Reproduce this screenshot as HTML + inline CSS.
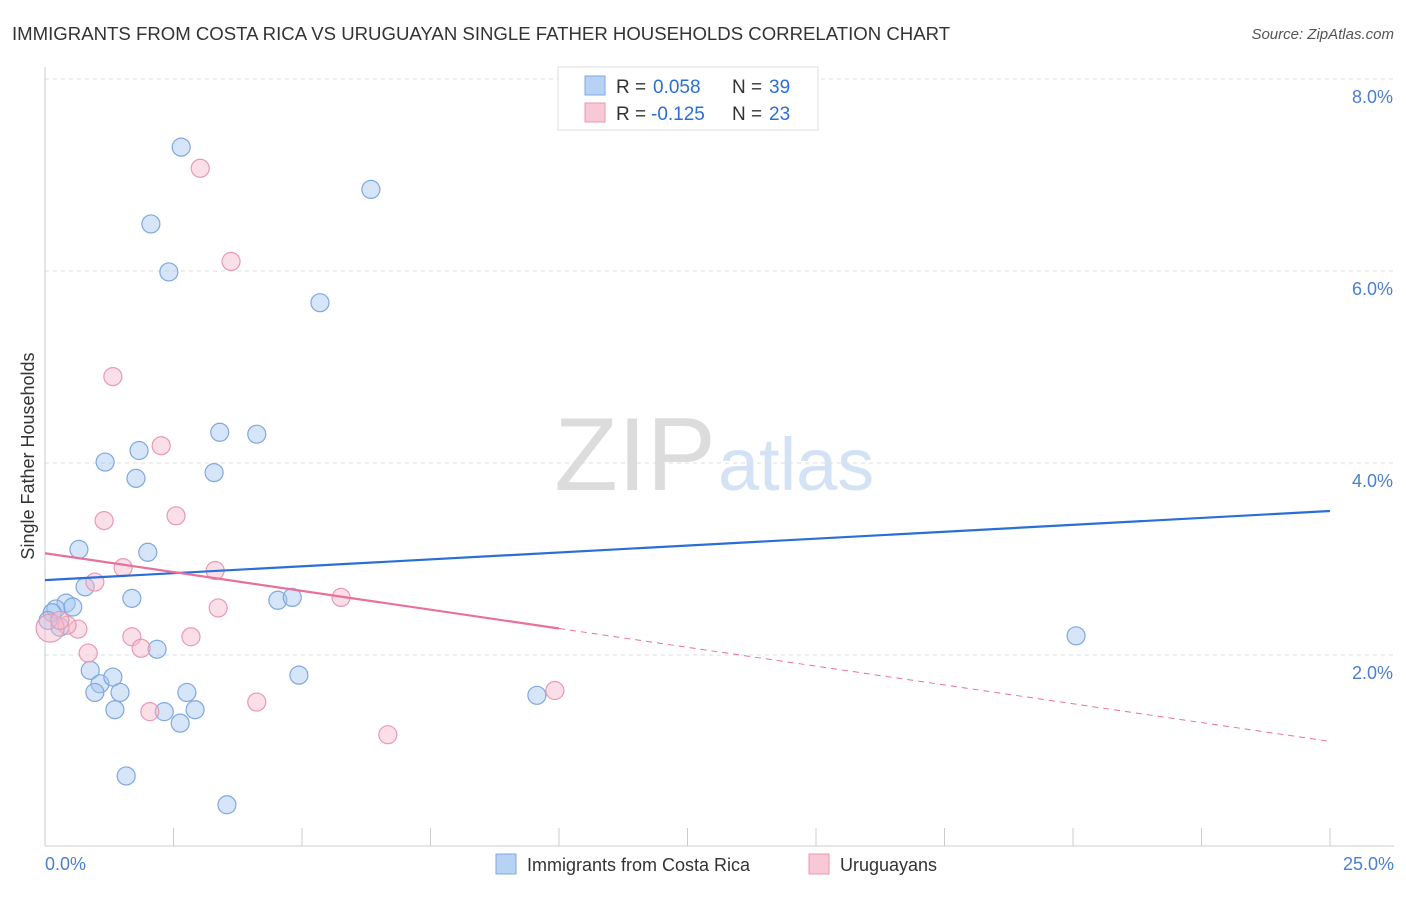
<!DOCTYPE html>
<html><head><meta charset="utf-8"><style>
body{margin:0;background:#fff;font-family:"Liberation Sans",sans-serif;}
svg text{font-family:"Liberation Sans",sans-serif;}
</style></head><body>
<svg id="chart" width="1406" height="892">
<text x="12" y="40" font-size="18.6" fill="#333">IMMIGRANTS FROM COSTA RICA VS URUGUAYAN SINGLE FATHER HOUSEHOLDS CORRELATION CHART</text>
<text x="1394" y="39" font-size="15" fill="#555" text-anchor="end" font-style="italic">Source: ZipAtlas.com</text>
<text x="716" y="490" font-size="104" fill="#dcdcdc" text-anchor="end" font-family="Liberation Serif">ZIP</text>
<text x="718" y="490" font-size="74" fill="#d3e2f5">atlas</text>
<g id="grid"></g>
<g id="axes"></g>
<g id="marks"></g>
<text transform="translate(34,456) rotate(-90)" font-size="18" fill="#333" text-anchor="middle">Single Father Households</text>
<g>
<rect x="558" y="67" width="260" height="63" fill="#fff" stroke="#ddd"/>
<rect x="585" y="76" width="20" height="19" fill="#b8d2f4" stroke="#7fa8e0"/>
<text x="616" y="93" font-size="19" fill="#333">R =</text>
<text x="653" y="93" font-size="19" fill="#2a6fd6">0.058</text>
<text x="732" y="93" font-size="19" fill="#333">N =</text>
<text x="769" y="93" font-size="19" fill="#2a6fd6">39</text>
<rect x="585" y="103" width="20" height="19" fill="#f8c8d6" stroke="#e89ab0"/>
<text x="616" y="120" font-size="19" fill="#333">R =</text>
<text x="651" y="120" font-size="19" fill="#2a6fd6">-0.125</text>
<text x="732" y="120" font-size="19" fill="#333">N =</text>
<text x="769" y="120" font-size="19" fill="#2a6fd6">23</text>
</g>
<g>
<rect x="496" y="854" width="20" height="20" fill="#b8d2f4" stroke="#7fa8e0"/>
<text x="527" y="871" font-size="18" fill="#333">Immigrants from Costa Rica</text>
<rect x="809" y="854" width="20" height="20" fill="#f8c8d6" stroke="#e89ab0"/>
<text x="840" y="871" font-size="18" fill="#333">Uruguayans</text>
</g>
</svg>
<script>
const blueX=[2.65,2.06,2.41,6.34,5.35,3.40,4.12,1.83,1.17,1.77,3.29,0.66,2.00,0.78,1.69,0.41,0.54,0.21,0.14,0.29,4.53,4.81,2.18,0.88,1.07,1.32,0.97,1.46,1.36,2.76,2.32,2.92,2.63,4.94,1.58,3.54,9.57,20.06,0.06];
const blueY=[7.29,6.49,5.99,6.85,5.67,4.32,4.30,4.13,4.01,3.84,3.90,3.10,3.07,2.71,2.59,2.54,2.50,2.48,2.44,2.29,2.57,2.60,2.06,1.84,1.70,1.77,1.61,1.61,1.43,1.61,1.41,1.43,1.29,1.79,0.74,0.44,1.58,2.20,2.36];
const pinkX=[3.02,3.62,1.32,2.26,1.15,2.55,0.97,1.52,3.31,3.37,5.76,0.64,0.43,0.84,1.69,1.87,2.84,2.04,4.12,9.92,6.67,0.10,0.29];
const pinkY=[7.07,6.10,4.90,4.18,3.40,3.45,2.76,2.91,2.88,2.49,2.60,2.27,2.31,2.02,2.19,2.07,2.19,1.41,1.51,1.63,1.17,2.28,2.36];
const blueTrend=[2.78,3.50];
const pinkTrend=[3.06,1.10];
const yTicks=[2,4,6,8];
const xTickLabels=["0.0%","25.0%"];
const NS="http://www.w3.org/2000/svg";
const sx=v=>45+v*51.4, sy=v=>847-v*96;
function mk(t,a,p){const e=document.createElementNS(NS,t);for(const k in a)e.setAttribute(k,a[k]);p.appendChild(e);return e;}
const grid=document.getElementById('grid'),axes=document.getElementById('axes'),marks=document.getElementById('marks');
yTicks.forEach(v=>{
 const l=mk('line',{x1:45,x2:1394,y1:sy(v),y2:sy(v),stroke:'#ddd','stroke-dasharray':'4,4'},grid);
 
 
 const t=mk('text',{x:1393,y:sy(v)+24,'font-size':18,fill:'#4a7fd0','text-anchor':'end'},axes);
 t.textContent=v.toFixed(1)+'%';
 
 
});
mk('line',{x1:45,x2:45,y1:67,y2:846,stroke:'#ccc'},axes);
mk('line',{x1:45,x2:1394,y1:846,y2:846,stroke:'#ccc'},axes);
for(let i=0;i<=10;i++){const tk=mk('line',{x1:sx(i*2.5),x2:sx(i*2.5),y1:828,y2:846,stroke:'#ccc'},axes);
 
 }
const xl0=mk('text',{x:45,y:870,'font-size':18,fill:'#4a7fd0'},axes);xl0.textContent=xTickLabels[0];


const xl1=mk('text',{x:1394,y:870,'font-size':18,fill:'#4a7fd0','text-anchor':'end'},axes);xl1.textContent=xTickLabels[1];


blueX.forEach((x,i)=>{const c=mk('circle',{cx:sx(x),cy:sy(blueY[i]),r:9,fill:'rgba(165,198,240,0.45)',stroke:'#7fa8e0','stroke-width':1.2},marks);
 
 });
pinkX.forEach((x,i)=>{const c=mk('circle',{cx:sx(x),cy:sy(pinkY[i]),r:i==21?14:9,fill:'rgba(246,184,204,0.45)',stroke:'#e89ab0','stroke-width':1.2},marks);
 
 });
const bl=mk('line',{x1:sx(0),y1:sy(blueTrend[0]),x2:sx(25),y2:sy(blueTrend[1]),stroke:'#2a6fd6','stroke-width':2.2},marks);


const pAt=x=>pinkTrend[0]+(pinkTrend[1]-pinkTrend[0])*x/25;
const pl=mk('line',{x1:sx(0),y1:sy(pAt(0)),x2:sx(10),y2:sy(pAt(10)),stroke:'#e8709a','stroke-width':2.2},marks);


const pd=mk('line',{x1:sx(10),y1:sy(pAt(10)),x2:sx(25),y2:sy(pAt(25)),stroke:'#e8709a','stroke-width':1,'stroke-dasharray':'6,5'},marks);


</script>
</body></html>
